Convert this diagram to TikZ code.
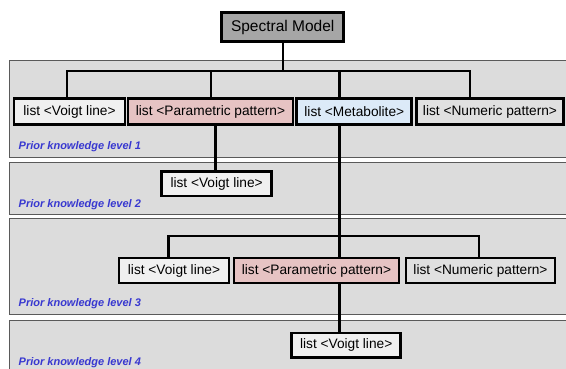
\documentclass[tikz,border=0pt]{standalone}
\usepackage{fontspec}
\setmainfont{Liberation Sans}
\definecolor{panelfill}{HTML}{DCDCDC}
\definecolor{panelline}{HTML}{5A5A5A}
\definecolor{rootfill}{HTML}{A6A6A6}
\definecolor{voigtfill}{HTML}{F0F0F0}
\definecolor{paramfill}{HTML}{E6C3C3}
\definecolor{metafill}{HTML}{DCEAF8}
\definecolor{numfill}{HTML}{E0E0E0}
\definecolor{lblblue}{HTML}{3838D0}
\tikzset{
  panel/.style={draw=panelline, fill=panelfill, line width=1pt},
  box/.style={draw=black, line width=2.7pt, inner sep=0pt, anchor=center,
    font=\fontsize{13.7}{15}\selectfont},
  voigt/.style={box, fill=voigtfill},
  param/.style={box, fill=paramfill},
  meta/.style={box, fill=metafill},
  numeric/.style={box, fill=numfill},
  rootbox/.style={box, fill=rootfill, font=\fontsize{15.5}{18}\selectfont},
  conn/.style={draw=black, line width=2.3pt},
  lvl/.style={anchor=west, text=lblblue, inner sep=0pt,
    font=\fontsize{11}{12}\selectfont\bfseries\itshape}
}
\begin{document}
\begin{tikzpicture}[x=1pt,y=-1pt]
\useasboundingbox (0,0) rectangle (566,368);
\fill[white] (0,0) rectangle (566,368);
\begin{scope}
\clip (0,0) rectangle (566,368);
% panels
\draw[panel] (9,60) rectangle (580,157);
\draw[panel] (9,162) rectangle (580,214);
\draw[panel] (9,218) rectangle (580,314);
\draw[panel] (9,320) rectangle (580,390);
\end{scope}
% labels
\node[lvl] (lab1) at (18.5,147) {Prior knowledge level 1};
\node[lvl] (lab2) at (18.5,204.5) {Prior knowledge level 2};
\node[lvl] (lab3) at (18.5,304) {Prior knowledge level 3};
\node[lvl] (lab4) at (18.5,363) {Prior knowledge level 4};
% junction coordinates
\coordinate (j0) at (282.7,70.7);
\coordinate (ja) at (67.1,70.7);
\coordinate (jb) at (211.2,70.7);
\coordinate (jc) at (339.4,70.7);
\coordinate (jd) at (470,70.7);
\coordinate (k0) at (339.4,236);
\coordinate (ka) at (168.6,236);
\coordinate (kb) at (478.7,236);
% nodes
\node[rootbox, minimum width=122pt, minimum height=28.6pt] (root) at (282.7,27) {Spectral Model};
\node[voigt, minimum width=111pt, minimum height=25.5pt] (v1) at (69.5,111.5) {list <Voigt line>};
\node[param, minimum width=165pt, minimum height=25.5pt] (p1) at (210.5,111.5) {list <Parametric pattern>};
\node[meta, minimum width=115pt, minimum height=25.5pt] (m1) at (354.3,111.5) {list <Metabolite>};
\node[numeric, minimum width=147pt, minimum height=25.5pt] (n1) at (490,111.5) {list <Numeric pattern>};
\node[voigt, minimum width=110pt, minimum height=24.5pt] (v2) at (216.6,183.7) {list <Voigt line>};
\node[voigt, minimum width=110pt, minimum height=25pt] (v3) at (174,270.5) {list <Voigt line>};
\node[param, minimum width=165pt, minimum height=25pt] (p3) at (316.5,270.5) {list <Parametric pattern>};
\node[numeric, minimum width=149pt, minimum height=25pt] (n3) at (480.5,270.5) {list <Numeric pattern>};
\node[voigt, minimum width=109pt, minimum height=24.5pt] (v4) at (346.2,345.2) {list <Voigt line>};
% connectors
\draw[conn] (root.south -| j0) -- (j0);
\draw[conn] (ja |- v1.north) -- (ja) -- (jd) -- (jd |- n1.north);
\draw[conn] (jb) -- (jb |- p1.north);
\draw[conn] (jc) -- (jc |- m1.north);
\draw[conn] (p1.south -| 215.5,0) -- (v2.north -| 215.5,0);
\draw[conn] (m1.south -| k0) -- (k0);
\draw[conn] (ka |- v3.north) -- (ka) -- (kb) -- (kb |- n3.north);
\draw[conn] (k0) -- (k0 |- p3.north);
\draw[conn] (p3.south -| k0) -- (k0 |- v4.north);
\end{tikzpicture}
\end{document}
